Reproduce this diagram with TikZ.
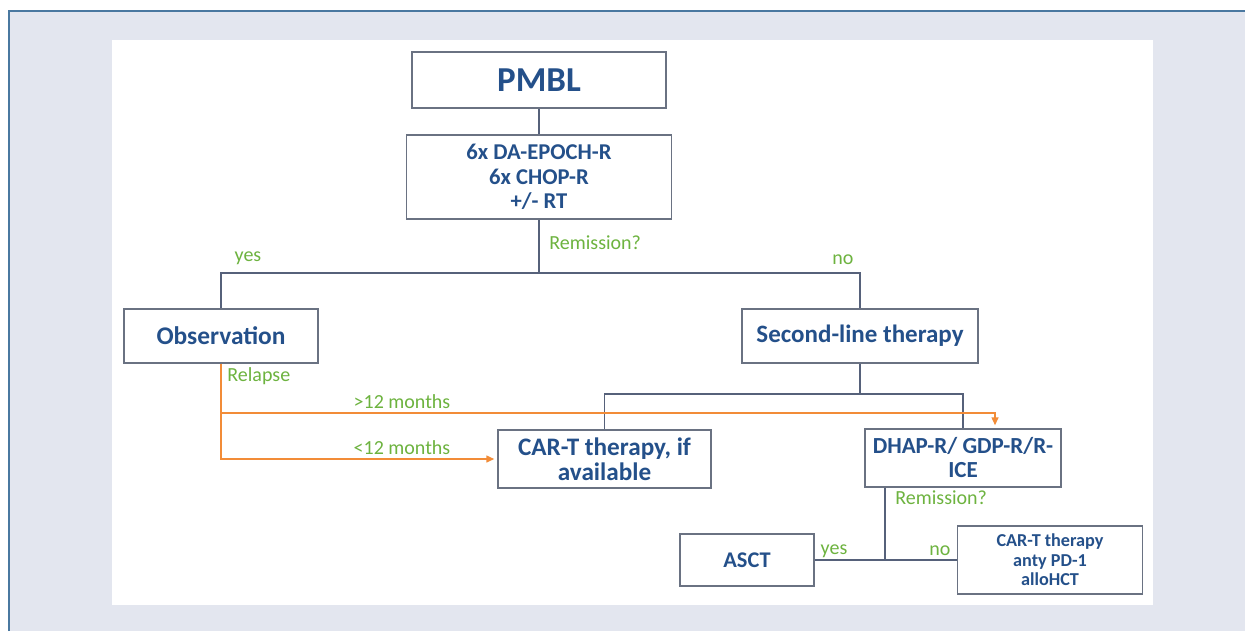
\documentclass[tikz,border=0pt]{standalone}
\usepackage{fontspec}
\setmainfont{Carlito}
\usetikzlibrary{arrows.meta}

\definecolor{framebg}{HTML}{E3E6EF}
\definecolor{frameline}{HTML}{4A78A0}
\definecolor{boxtext}{HTML}{24508A}
\definecolor{boxline}{HTML}{6A7282}
\definecolor{linkline}{HTML}{56617A}
\definecolor{answer}{HTML}{6DB33F}
\definecolor{relapseline}{HTML}{F28C38}

\begin{document}
\begin{tikzpicture}[x=0.5pt,y=-0.5pt]
\tikzstyle{every node}=[font=\bfseries]
\tikzset{
  box/.style={draw=boxline, line width=0.75pt, fill=white, text=boxtext, align=center, inner sep=2pt},
  link/.style={draw=linkline, line width=0.75pt},
  relapse/.style={draw=relapseline, line width=0.75pt, shorten >=1.5pt, -{Triangle[length=4pt,width=3.5pt]}},
  answer/.style={text=answer, font=\fontsize{10}{12}\selectfont, inner sep=1pt},
}
\useasboundingbox (0,0) rectangle (1245,631);

% grey frame with a white sheet on it
\fill[framebg] (8,11) rectangle (1245,631);
\draw[frameline, line width=1pt] (8.5,631) -- (8.5,11) -- (1245,11);
\fill[white] (112,40) rectangle (1153,605);

% boxes
\node[box, minimum width=127pt, minimum height=28pt, font=\bfseries\fontsize{17.5}{20}\selectfont] (pmbl) at (539,80) {PMBL};
\node[box, minimum width=132.5pt, minimum height=42pt, font=\bfseries\fontsize{11.3}{12.25}\selectfont] (regimen) at (539,177) {6x DA-EPOCH-R\\6x CHOP-R\\+/- RT};
\node[box, minimum width=97pt, minimum height=27pt, font=\bfseries\fontsize{12.7}{14}\selectfont] (obs) at (221,336) {Observation};
\node[box, minimum width=118pt, minimum height=27pt, font=\bfseries\fontsize{12.5}{14}\selectfont] (second) at (860,336) {Second-line therapy};
\node[box, minimum width=106.5pt, minimum height=29pt, font=\bfseries\fontsize{12.6}{12.5}\selectfont] (cart) at (604.5,459) {CAR-T therapy, if\\available};
\node[box, minimum width=98pt, minimum height=29pt, font=\bfseries\fontsize{11.5}{12}\selectfont] (dhap) at (963,458) {DHAP-R/ GDP-R/R-\\ICE};
\node[box, minimum width=67pt, minimum height=26pt, font=\bfseries\fontsize{11.2}{12}\selectfont] (asct) at (747,560) {ASCT};
\node[box, minimum width=92.5pt, minimum height=34pt, font=\bfseries\fontsize{9.1}{9.75}\selectfont] (rescue) at (1050,560) {CAR-T therapy\\anty PD-1\\alloHCT};

% branch points
\coordinate (split) at (539,273);
\coordinate (split2) at (860,394);
\coordinate (dsplit) at (885,560);
\coordinate (latebend) at (995,413);

% connectors
\draw[link] (pmbl) -- (regimen);
\draw[link] (regimen) -- (split);
\draw[link] (obs.north) |- (split) -| (second.north);
\draw[link] (second) -- (split2);
\draw[link] (cart.north) |- (split2) -| (dhap.north);
\draw[link] (dhap.south -| dsplit) -- (dsplit);
\draw[link] (asct) -- (rescue);

% relapse paths
\draw[relapse] (obs.south) |- (cart.west);
\draw[relapse] (obs.south |- latebend) -- (latebend) -- (latebend |- dhap.north);

% answers
\node[answer, anchor=west] (remission) at (547,243) {Remission?};
\node[answer] (yes) at (248,258) {yes};
\node[answer] (no) at (843,260) {no};
\node[answer, anchor=west] (rel) at (225,376) {Relapse};
\node[answer] (late) at (402,402) {>12 months};
\node[answer] (early) at (402,448) {<12 months};
\node[answer, anchor=west] (remission2) at (893,498) {Remission?};
\node[answer] (yes2) at (834,551) {yes};
\node[answer] (no2) at (940,551) {no};

\end{tikzpicture}
\end{document}
